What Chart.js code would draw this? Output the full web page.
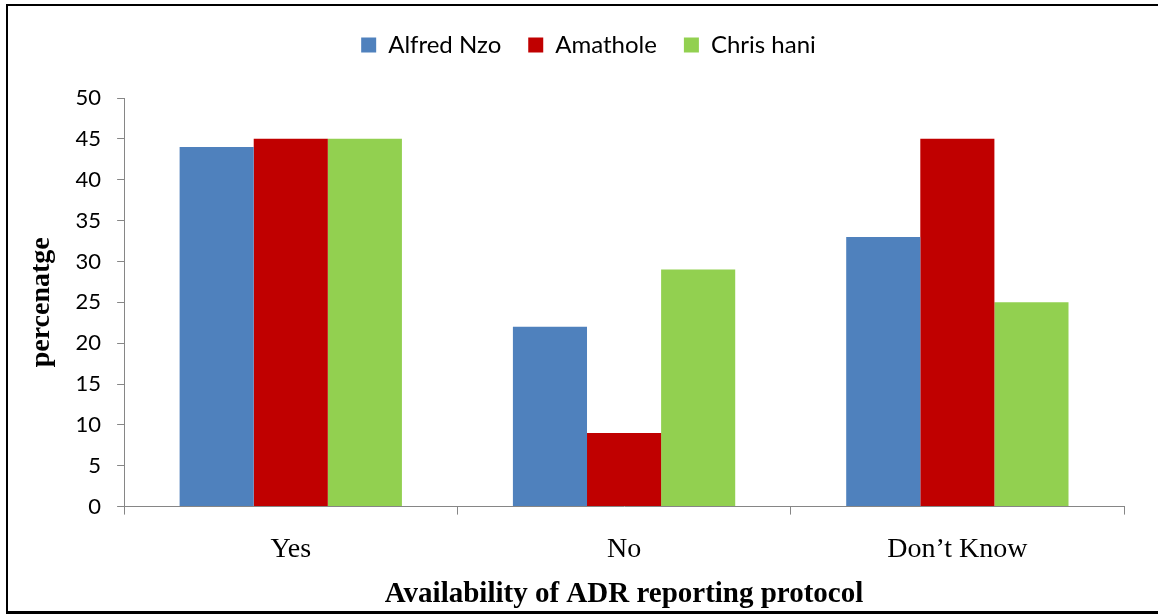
<!DOCTYPE html>
<html>
<head>
<meta charset="utf-8">
<script src="https://cdn.jsdelivr.net/npm/chart.js@4.4.1/dist/chart.umd.min.js"></script>
<style>
  html, body { margin: 0; padding: 0; background: #fff; }
  #wrap { position: relative; width: 1158px; height: 614px; }
  #frame { position: absolute; left: 6px; top: 4px; width: 1152px; height: 610px;
           border-left: 2px solid #000; border-top: 2px solid #000; border-bottom: 3px solid #000;
           box-sizing: border-box; pointer-events: none; }
  canvas { position: absolute; left: 0; top: 0; }
</style>
</head>
<body>
<div id="wrap">
  <canvas id="c" width="1158" height="614"></canvas>
  <div id="frame"></div>
</div>
<script>
const categories = ["Yes", "No", "Don\u2019t Know"];
const alfredNzo = [44, 22, 33];
const amathole = [45, 9, 45];
const chrisHani = [45, 29, 25];
const yTicks = [0, 5, 10, 15, 20, 25, 30, 35, 40, 45, 50];

const sansFont = "Lato, 'Liberation Sans', sans-serif";
const serifFont = "'Liberation Serif', 'DejaVu Serif', serif";
const axisGrey = "#868686";

// leaves extra room between the legend row and the plot
const legendGap = {
  id: "legendGap",
  beforeInit(chart) {
    const fit = chart.legend.fit;
    chart.legend.fit = function () {
      fit.bind(chart.legend)();
      this.height += 31;
    };
  }
};

new Chart(document.getElementById("c"), {
  type: "bar",
  data: {
    labels: categories,
    datasets: [
      { label: "Alfred Nzo", data: alfredNzo, backgroundColor: "#4F81BD" },
      { label: "Amathole", data: amathole, backgroundColor: "#C00000" },
      { label: "Chris hani", data: chrisHani, backgroundColor: "#92D050" }
    ]
  },
  plugins: [legendGap],
  options: {
    responsive: false,
    animation: false,
    datasets: { bar: { categoryPercentage: 0.667, barPercentage: 1.0, borderWidth: 0 } },
    layout: { padding: { left: 53, right: 34, top: 6, bottom: 2 } },
    plugins: {
      tooltip: { enabled: false },
      legend: {
        position: "top",
        labels: {
          font: { family: sansFont, size: 24 },
          color: "#000",
          boxWidth: 15,
          boxHeight: 15,
          padding: 27
        }
      }
    },
    scales: {
      x: {
        grid: { drawOnChartArea: false, color: axisGrey, tickLength: 8, offset: true },
        border: { color: axisGrey, width: 1 },
        ticks: { font: { family: serifFont, size: 28 }, color: "#000", padding: 18 },
        title: { display: true, text: "Availability of ADR reporting protocol",
                 font: { family: serifFont, size: 29, weight: "bold" }, color: "#000", padding: { top: -7, bottom: 0 } }
      },
      y: {
        min: 0, max: 50,
        afterBuildTicks: axis => { axis.ticks = yTicks.map(v => ({ value: v })); },
        grid: { drawOnChartArea: false, color: axisGrey, tickLength: 7 },
        border: { color: axisGrey, width: 1 },
        ticks: { font: { family: sansFont, size: 22 }, color: "#000", padding: 16 },
        title: { display: true, text: "percenatge",
                 font: { family: serifFont, size: 28, weight: "bold" }, color: "#000", padding: { top: -28, bottom: 1 } }
      }
    }
  }
});
</script>
</body>
</html>
